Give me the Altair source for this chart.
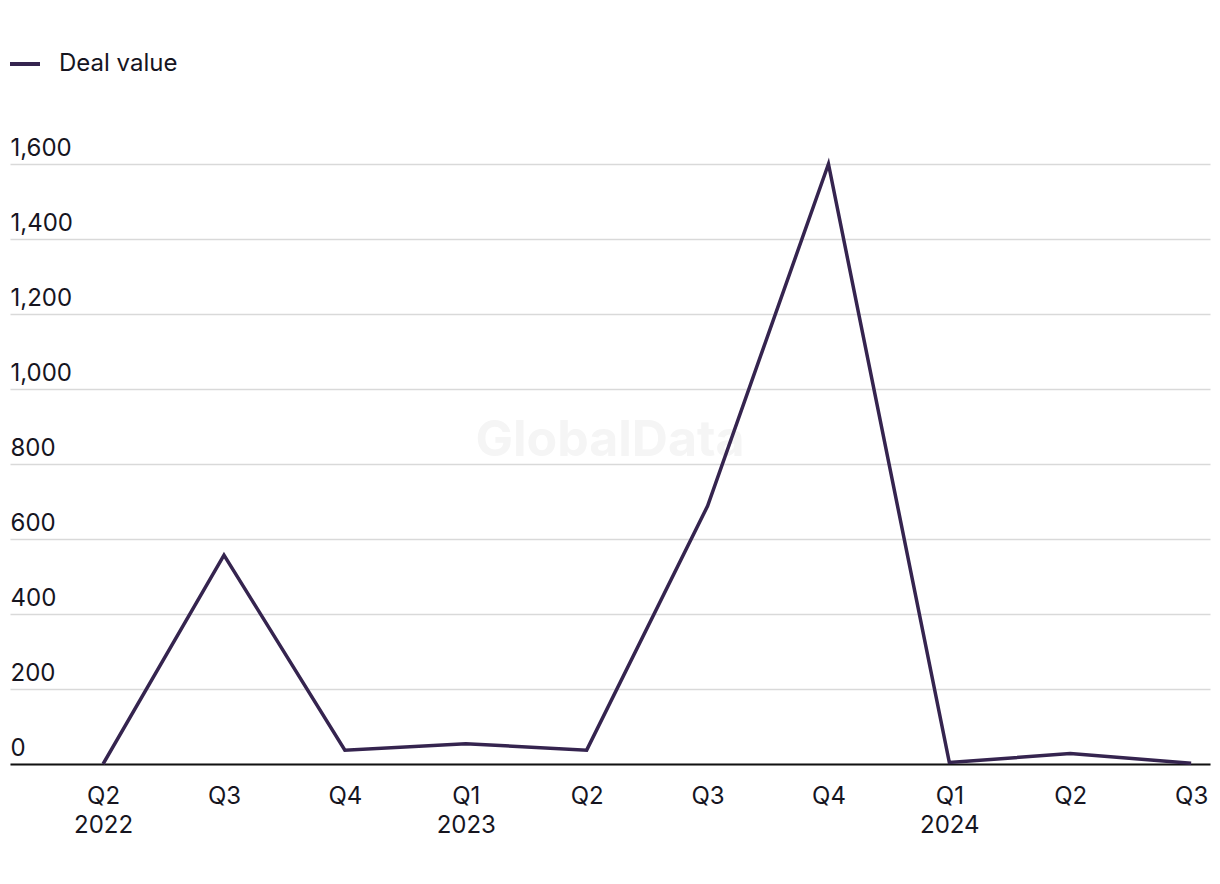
import altair as alt
import pandas as pd
import json

quarters = ["Q2", "Q3", "Q4", "Q1", "Q2", "Q3", "Q4", "Q1", "Q2", "Q3"]
years = ["2022", "", "", "2023", "", "", "", "2024", "", ""]
deal_value = [0, 557, 37, 54, 37, 688, 1600, 4, 28, 2]
series_name = "Deal value"
y_ticks = [0, 200, 400, 600, 800, 1000, 1200, 1400, 1600]

LINE = "#35244f"
TEXT = "#16151f"
FONT = "Inter"
FS = 24

df = pd.DataFrame({
    "idx": list(range(len(quarters))),
    "value": deal_value,
    "series": [series_name] * len(quarters),
})

label_arrays = [[q, y] if y else [q] for q, y in zip(quarters, years)]
label_expr = json.dumps(label_arrays) + "[datum.value]"

line = alt.Chart(df).mark_line(strokeWidth=3.5, strokeJoin="miter").encode(
    x=alt.X(
        "idx:Q",
        scale=alt.Scale(domain=[-0.77, 9.156], nice=False, zero=False),
        axis=alt.Axis(
            values=list(range(len(quarters))),
            labelExpr=label_expr,
            grid=False,
            ticks=False,
            domainColor="#111111",
            domainWidth=2,
            labelPadding=20,
            labelFontSize=FS,
            labelBaseline="top",
            labelLineHeight=29,
            labelColor=TEXT,
            labelFont=FONT,
            labelFlush=False,
            labelOverlap=False,
            title=None,
        ),
    ),
    y=alt.Y(
        "value:Q",
        scale=alt.Scale(domain=[0, 1600], nice=False),
        axis=alt.Axis(
            values=y_ticks,
            format=",d",
            labelAlign="left",
            labelBaseline="alphabetic",
            labelPadding=0,
            tickSize=0,
            ticks=False,
            domain=False,
            gridColor="#d9d9d9",
            gridWidth=1.5,
            labelOffset=-9,
            labelFontSize=FS,
            labelColor=TEXT,
            labelFont=FONT,
            title=None,
        ),
    ),
    color=alt.Color(
        "series:N",
        scale=alt.Scale(domain=[series_name], range=[LINE]),
        legend=alt.Legend(
            orient="none",
            legendX=-2,
            legendY=-117,
            title=None,
            symbolType="stroke",
            symbolSize=900,
            symbolStrokeWidth=4,
            labelOffset=17,
            labelFontSize=FS,
            labelColor=TEXT,
            labelFont=FONT,
        ),
    ),
)

wm = alt.Chart(pd.DataFrame({"t": ["GlobalData"]})).mark_text(
    font=FONT, fontSize=50, fontWeight="bold", color="#f5f5f5", align="center", baseline="middle"
).encode(text="t:N", x=alt.value(600), y=alt.value(277))

chart = alt.layer(wm, line).properties(
    width=1200,
    height=600,
    autosize=alt.AutoSizeParams(type="none"),
    padding={"left": 2, "top": 156, "right": 2, "bottom": 110},
).configure(font=FONT).configure_view(stroke=None)

chart.save("out.html", embed_options={"renderer": "svg", "actions": False})
